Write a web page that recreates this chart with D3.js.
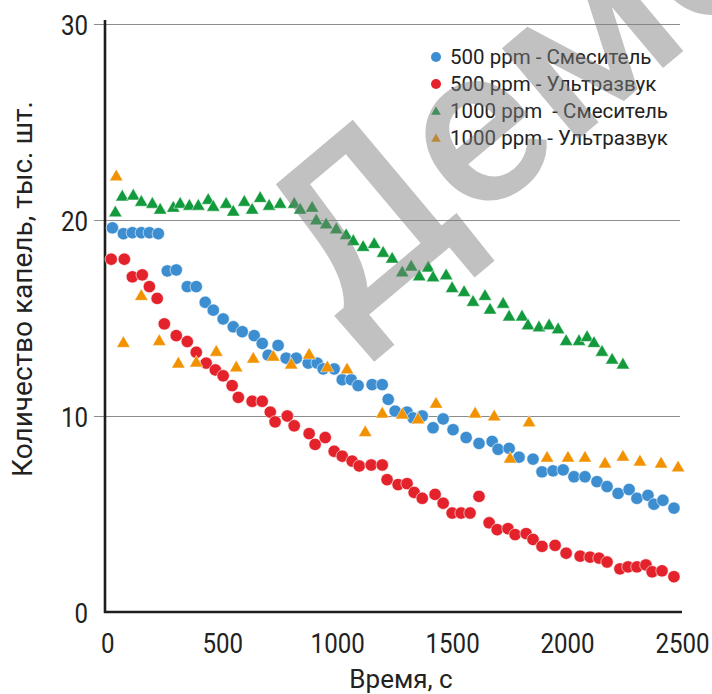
<!DOCTYPE html>
<html><head><meta charset="utf-8">
<script src="https://cdn.jsdelivr.net/npm/d3@7/dist/d3.min.js"></script>
<style>
html,body{margin:0;padding:0;background:#fff;}
svg{display:block;}
</style></head>
<body>
<svg id="chart" width="712" height="694"></svg>
<script>
// ---------- data ----------
const seriesNames = ["500 ppm - Смеситель", "500 ppm - Ультразвук", "1000 ppm  - Смеситель", "1000 ppm - Ультразвук"];
const xTicks = [0, 500, 1000, 1500, 2000, 2500];
const yTicks = [0, 10, 20, 30];

const blueX = [22,70,109,148,183,222,261,300,348,387,426,461,504,548,587,639,674,700,743,778,822,874,913,939,987,1022,1061,1091,1152,1196,1222,1252,1304,1330,1370,1417,1461,1504,1561,1617,1674,1700,1748,1791,1852,1891,1939,1983,2030,2078,2130,2174,2222,2270,2304,2352,2378,2417,2465];
const blueY = [19.6,19.3,19.35,19.35,19.35,19.3,17.4,17.45,16.6,16.6,15.8,15.4,14.95,14.55,14.3,14.1,13.7,13.1,13.6,12.95,12.95,12.7,12.7,12.4,12.4,11.85,11.85,11.55,11.6,11.6,10.85,10.25,10.2,9.9,10.0,9.4,9.85,9.3,8.9,8.6,8.7,8.3,8.35,7.9,7.8,7.15,7.2,7.25,6.9,6.9,6.65,6.4,6.05,6.25,5.8,5.95,5.5,5.7,5.3];

const redX = [17,74,109,152,183,217,248,300,348,387,430,470,504,543,570,630,674,709,730,783,813,878,904,948,987,1022,1065,1096,1148,1196,1217,1265,1304,1335,1370,1426,1461,1500,1539,1578,1617,1661,1696,1743,1774,1822,1852,1891,1948,1996,2057,2100,2139,2174,2230,2265,2304,2343,2370,2413,2465];
const redY = [18.0,18.0,17.1,17.2,16.6,16.0,14.7,14.1,13.8,13.25,12.7,12.35,12.05,11.55,10.95,10.75,10.75,10.2,9.7,10.0,9.5,9.1,8.55,8.9,8.2,7.95,7.7,7.45,7.5,7.5,6.75,6.5,6.55,6.1,5.8,6.0,5.55,5.05,5.05,5.05,5.9,4.55,4.2,4.25,3.95,4.0,3.7,3.35,3.4,3.0,2.85,2.8,2.75,2.55,2.2,2.3,2.3,2.4,2.05,2.1,1.8];

const greenX = [35,65,113,148,196,230,287,317,357,396,439,461,517,548,596,630,665,704,752,813,839,891,909,952,996,1039,1070,1113,1161,1200,1239,1283,1322,1357,1396,1417,1474,1500,1552,1591,1643,1665,1722,1748,1804,1830,1878,1922,1961,1996,2052,2087,2117,2152,2196,2243];
const greenY = [20.36,21.17,21.22,20.9,20.8,20.5,20.6,20.8,20.7,20.7,21.0,20.65,20.8,20.4,20.9,20.5,21.1,20.7,20.8,20.8,20.5,20.6,19.95,19.75,19.5,19.2,18.9,18.6,18.75,18.3,18.0,17.3,17.6,17.1,17.55,17.05,17.15,16.5,16.3,15.8,16.1,15.4,15.7,15.05,15.05,14.6,14.5,14.6,14.4,13.8,13.8,14.0,13.7,13.25,12.85,12.6];

const orangeX = [39,70,148,226,309,387,474,561,635,722,800,878,957,1043,1122,1196,1283,1352,1430,1600,1683,1752,1835,1913,2004,2078,2165,2243,2317,2409,2483];
const orangeY = [22.2,13.7,16.1,13.8,12.65,12.7,13.25,12.45,12.9,13.0,12.6,13.1,12.45,12.35,9.15,10.1,10.05,9.8,10.6,10.1,9.95,7.8,9.65,7.85,7.85,7.85,7.55,7.9,7.65,7.55,7.35];

const xTitle = "Время, с";
const yTitle = "Количество капель, тыс. шт.";
const watermark = "Демо";

// ---------- drawing ----------
const REG = "Roboto, 'Noto Sans', sans-serif";
const SQ = 0.86; // horizontal squeeze of the condensed tick font
const colors = ["#3d8ed0", "#e3222b", "#129a3c", "#f29200"];
const shapes = ["circle", "circle", "triangle", "triangle"];

const svg = d3.select("#chart");
const x = d3.scaleLinear().domain([-10, 2500]).range([105, 682]);
const y = d3.scaleLinear().domain([0, 30]).range([612, 24]);

// grid lines
const grid = svg.append("g").attr("transform", "translate(94,0)")
  .call(d3.axisLeft(y).tickValues(yTicks.filter(v => v > 0)).tickSize(-586).tickFormat(""));
grid.select(".domain").remove();
grid.selectAll(".tick line").attr("stroke", "#8c8c8c").attr("stroke-width", 1.2);

// y tick labels
const yAx = svg.append("g").attr("transform", "translate(105,0)")
  .call(d3.axisLeft(y).tickValues(yTicks).tickSize(0).tickPadding(17).tickFormat(d3.format("d")));
yAx.select(".domain").remove();
yAx.selectAll("text").attr("font-family", REG).attr("font-size", 28).attr("fill", "#222")
  .attr("dy", "0.36em").attr("x", -17 / SQ).attr("transform", `scale(${SQ},1)`);

// x tick labels
const xAx = svg.append("g").attr("transform", "translate(0,612)")
  .call(d3.axisBottom(x).tickValues(xTicks).tickSize(0).tickPadding(21).tickFormat(d3.format("d")));
xAx.select(".domain").remove();
xAx.selectAll("text").attr("font-family", REG).attr("font-size", 28).attr("fill", "#222")
  .attr("transform", `scale(${SQ},1)`);

// axis lines
svg.append("line").attr("x1", x.range()[0]).attr("x2", x.range()[0]).attr("y1", 20).attr("y2", y(0) + 1)
  .attr("stroke", "#1e1e1e").attr("stroke-width", 2.6);
svg.append("line").attr("x1", x.range()[0] - 1).attr("x2", x(2500)).attr("y1", y(0)).attr("y2", y(0))
  .attr("stroke", "#1e1e1e").attr("stroke-width", 2.6);

// titles
svg.append("text").attr("x", 401).attr("y", 688).attr("text-anchor", "middle")
  .attr("font-family", REG).attr("font-size", 26).attr("fill", "#222").text(xTitle);
svg.append("text").attr("transform", "translate(32,289) rotate(-90)").attr("text-anchor", "middle")
  .attr("font-family", REG).attr("font-size", 28).attr("fill", "#222").text(yTitle);

// points
const series = [
  {xs: blueX, ys: blueY}, {xs: redX, ys: redY}, {xs: greenX, ys: greenY}, {xs: orangeX, ys: orangeY}
];
const tri = d3.symbol(d3.symbolTriangle, 78);
series.forEach((s, i) => {
  const data = s.xs.map((v, k) => [v, s.ys[k]]);
  const g = svg.append("g");
  if (shapes[i] === "circle") {
    g.selectAll("circle").data(data).join("circle")
      .attr("cx", d => x(d[0])).attr("cy", d => y(d[1])).attr("r", 6.2)
      .attr("fill", colors[i]).attr("stroke", "#fff").attr("stroke-width", 0.6);
  } else {
    g.selectAll("path").data(data).join("path")
      .attr("transform", d => `translate(${x(d[0])},${y(d[1])})`)
      .attr("d", tri).attr("fill", colors[i]).attr("stroke", "#fff").attr("stroke-width", 0.5);
  }
});

// legend
const leg = svg.append("g");
const legY = [57, 84, 111, 138];
seriesNames.forEach((name, i) => {
  if (shapes[i] === "circle") {
    leg.append("circle").attr("cx", 436).attr("cy", legY[i]).attr("r", 5).attr("fill", colors[i]);
  } else {
    leg.append("path").attr("transform", `translate(436,${legY[i] + 1})`)
      .attr("d", d3.symbol(d3.symbolTriangle, 40)).attr("fill", colors[i]);
  }
  leg.append("text").attr("x", 450).attr("y", legY[i]).attr("dy", "0.35em")
    .attr("font-family", REG).attr("font-size", 20.5).attr("fill", "#222")
    .style("white-space", "pre").attr("xml:space", "preserve").text(name);
});

// watermark
svg.append("text").attr("transform", "translate(345,335) rotate(-40)")
  .attr("font-family", REG).attr("font-weight", 500).attr("font-size", 225)
  .attr("fill", "#808080").attr("opacity", 0.48)
  .style("pointer-events", "none").text(watermark);
</script>
</body></html>
